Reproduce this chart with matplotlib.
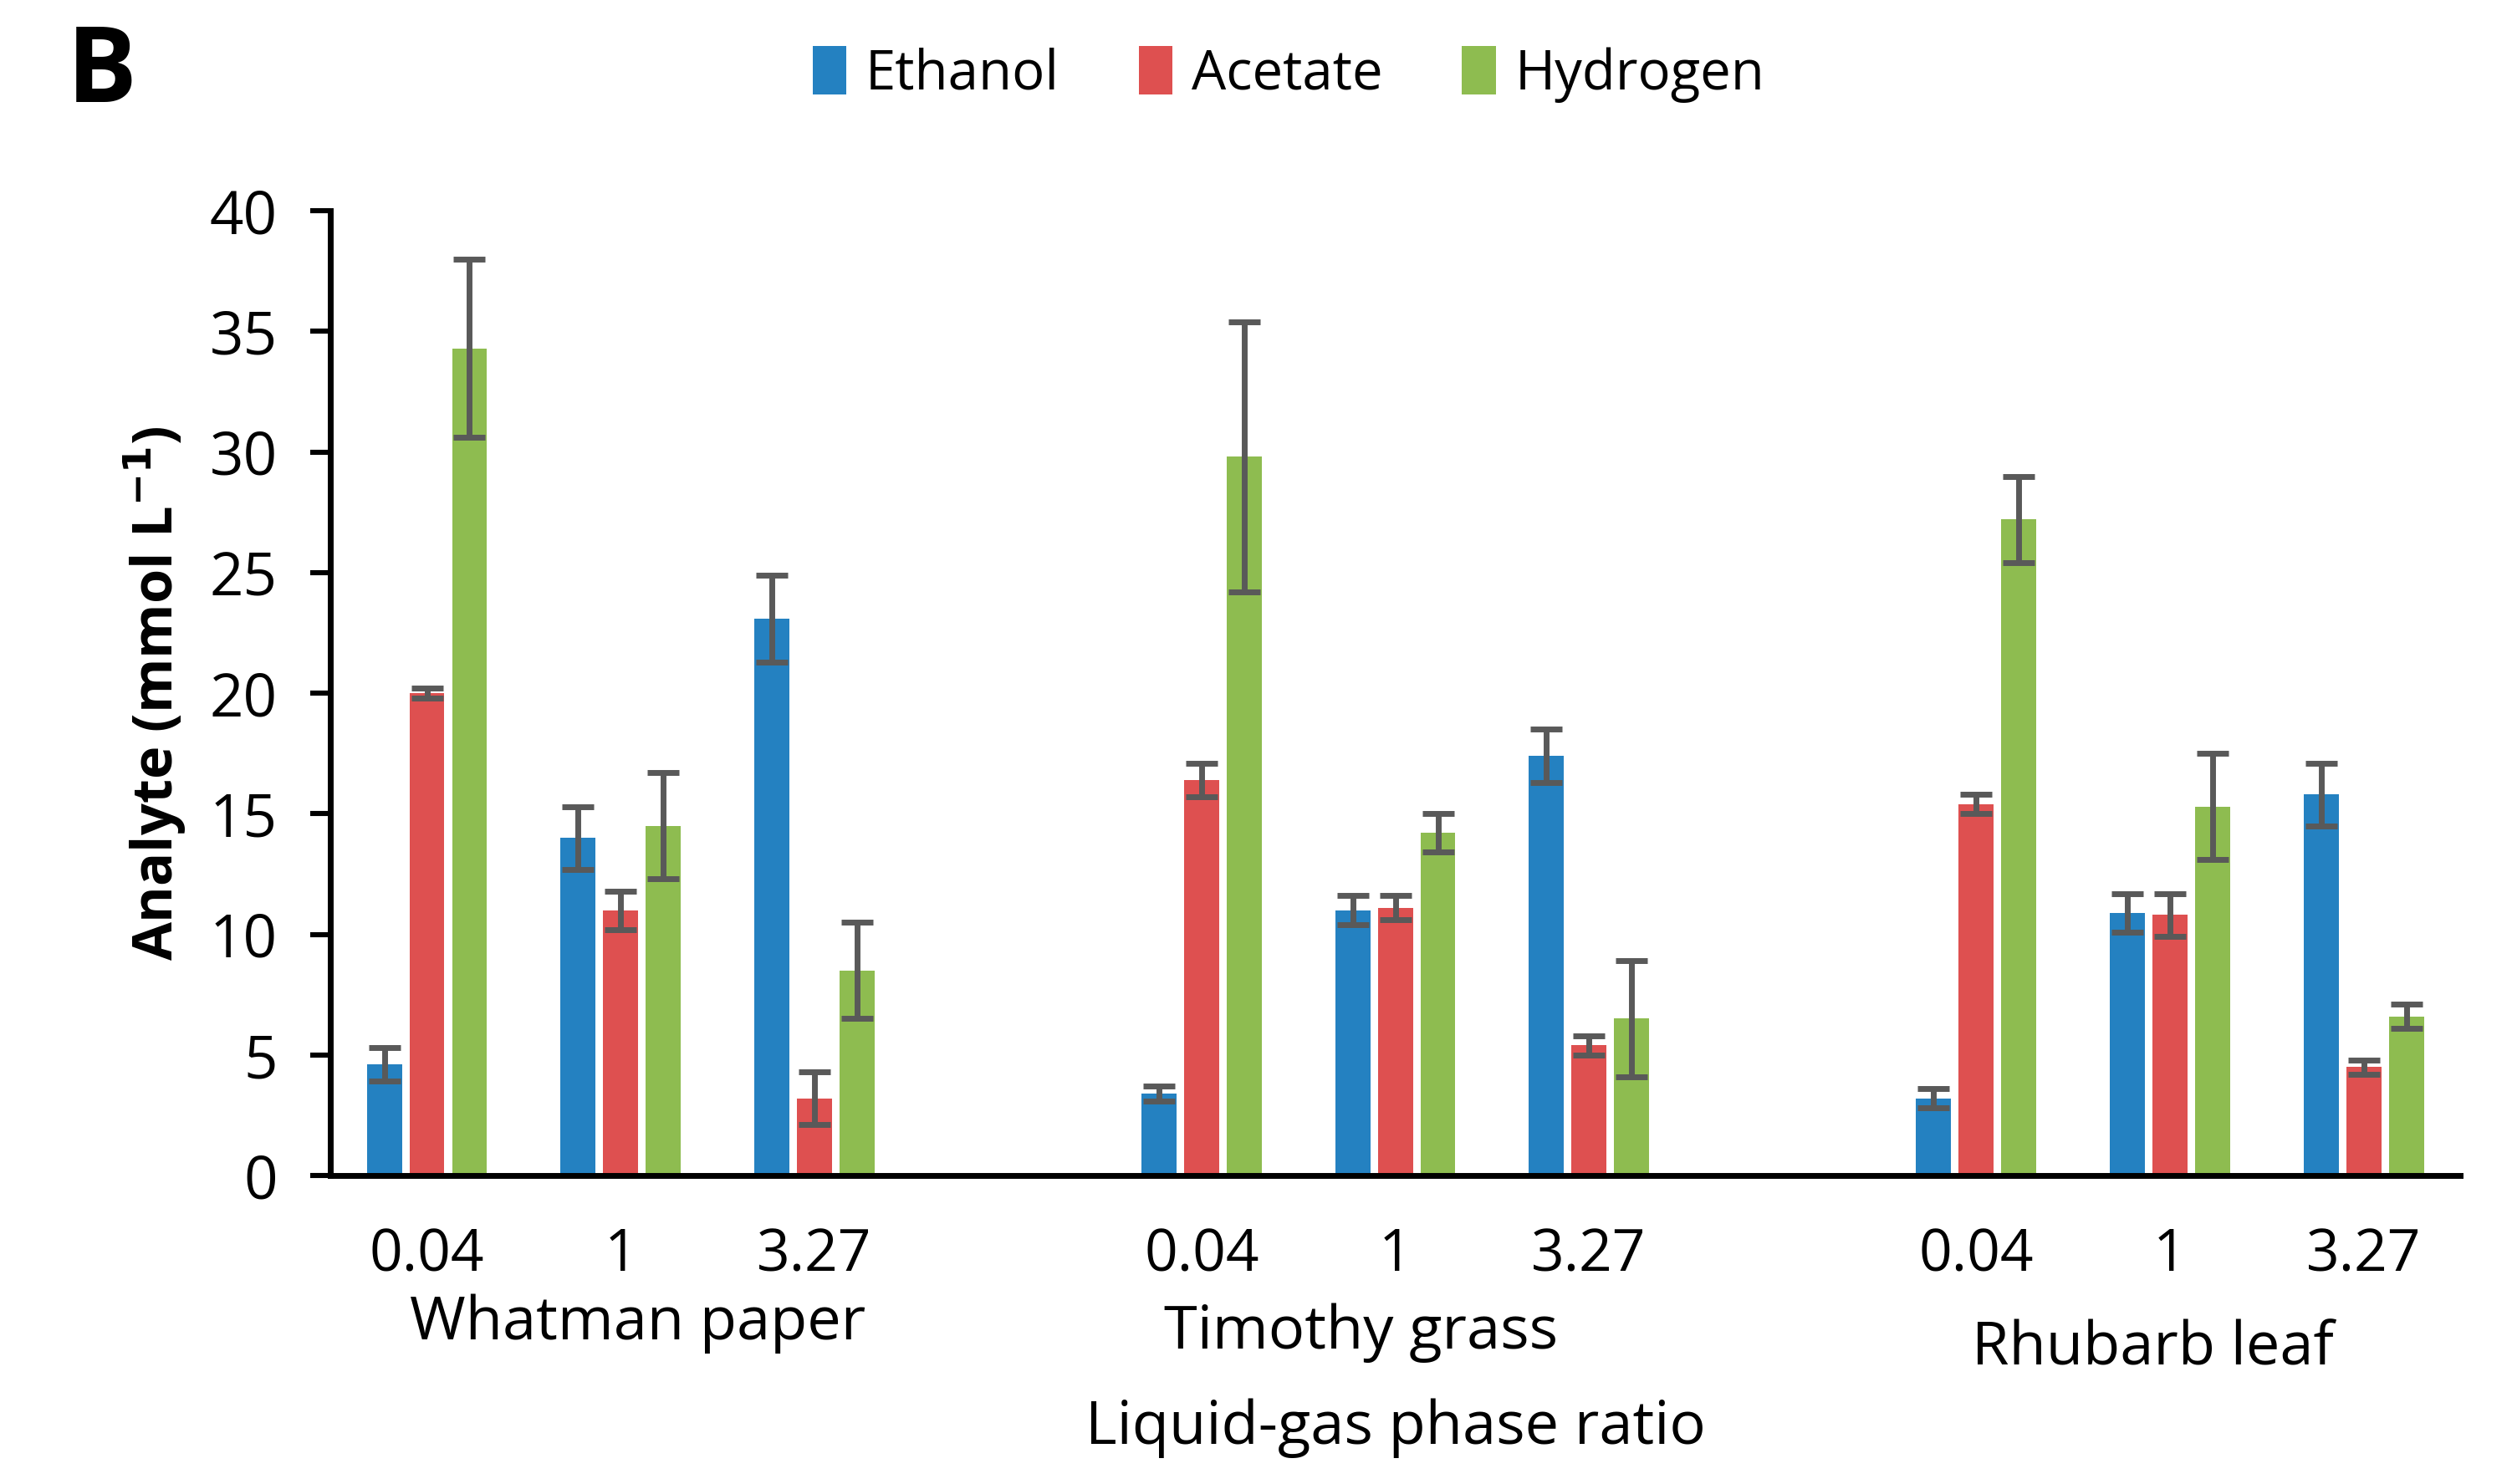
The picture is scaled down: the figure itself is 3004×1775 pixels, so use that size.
import numpy as np
import matplotlib
matplotlib.use("Agg")
import matplotlib.pyplot as plt

plt.rcParams['font.family'] = ['Open Sans', 'DejaVu Sans']

# data
substrates = ["Whatman paper", "Timothy grass", "Rhubarb leaf"]
ratios = ["0.04", "1", "3.27"]
series = ["Ethanol", "Acetate", "Hydrogen"]
colors = ["#2481C1", "#DE5050", "#8EBC50"]

ethanol = [4.6, 14.0, 23.1, 3.4, 11.0, 17.4, 3.2, 10.9, 15.8]
acetate = [20.0, 11.0, 3.2, 16.4, 11.1, 5.4, 15.4, 10.8, 4.5]
hydrogen = [34.3, 14.5, 8.5, 29.8, 14.2, 6.5, 27.2, 15.3, 6.6]

ethanol_err = [0.7, 1.3, 1.8, 0.3, 0.6, 1.1, 0.4, 0.8, 1.3]
acetate_err = [0.2, 0.8, 1.1, 0.7, 0.5, 0.4, 0.4, 0.9, 0.3]
hydrogen_err = [3.7, 2.2, 2.0, 5.6, 0.8, 2.4, 1.8, 2.2, 0.5]

values = [ethanol, acetate, hydrogen]
errors = [ethanol_err, acetate_err, hydrogen_err]

# category slots like an Excel chart with blank columns between substrates
pos = []
for g in range(len(substrates)):
    for r in range(len(ratios)):
        pos.append(g * 4 + r + 0.5)
pos = np.array(pos)

bar_w = 0.181
step = 0.220

fig = plt.figure(figsize=(15.02, 8.875), dpi=200)
ax = fig.add_axes([0.1314, 0.2079, 0.8481, 0.650])

for i, name in enumerate(series):
    ax.bar(pos + (i - 1) * step, values[i], width=bar_w, color=colors[i],
           label=name, zorder=2)
    ax.errorbar(pos + (i - 1) * step, values[i], yerr=errors[i], fmt="none",
                ecolor="#595959", elinewidth=2.5, capsize=6.8, capthick=2.5,
                zorder=3)

ax.set_xlim(0, 11)
ax.set_ylim(0, 40)
ax.set_yticks(np.arange(0, 41, 5))
ax.set_xticks(pos)
ax.set_xticklabels(ratios * len(substrates))
ax.tick_params(axis="x", length=0, pad=22, labelsize=25)
ax.tick_params(axis="y", length=8.6, width=2.2, direction="out", pad=14,
               labelsize=25.5)

for s in ["top", "right"]:
    ax.spines[s].set_visible(False)
for s in ["left", "bottom"]:
    ax.spines[s].set_linewidth(2.5)

ax.set_ylabel("Analyte (mmol L$^{\\mathbf{-1}}$)", fontsize=24,
              fontweight="bold")
ax.yaxis.set_label_coords(-0.0665, 0.5)

# substrate labels under each group of three, slightly staggered
label_y = [0.108, 0.1016, 0.091]
label_dx = [0.09, -0.175, -0.09]
for g, name in enumerate(substrates):
    xc = pos[g * 3 + 1] + label_dx[g]
    xf = fig.transFigure.inverted().transform(ax.transData.transform((xc, 0)))[0]
    fig.text(xf, label_y[g], name, ha="center", va="center", fontsize=26)

fig.text(0.5555, 0.0376, "Liquid-gas phase ratio", ha="center", va="center",
         fontsize=26)
fig.text(0.0405, 0.950, "B", ha="center", va="center", fontsize=45,
         fontweight="bold")

fig.legend(loc="center", bbox_to_anchor=(0.513, 0.950), ncol=3, frameon=False,
           fontsize=23.5, handlelength=0.62, handleheight=1.0,
           handletextpad=0.35, columnspacing=1.45)

fig.savefig("out.png", dpi=200)
